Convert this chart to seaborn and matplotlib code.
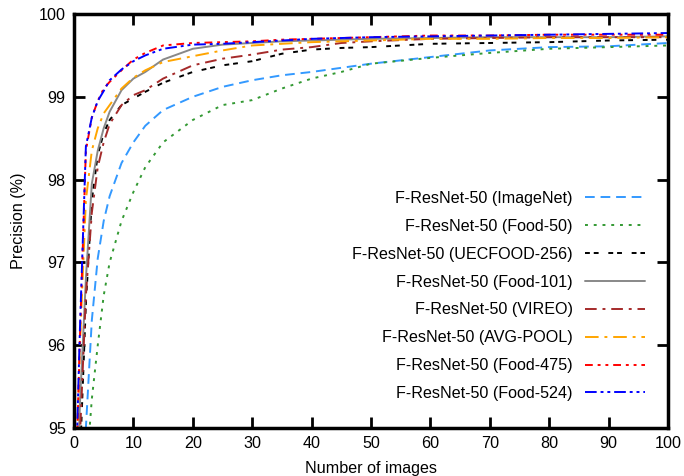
import numpy as np
import pandas as pd
import matplotlib
matplotlib.use("Agg")
import matplotlib.pyplot as plt
import seaborn as sns

x_vals = [0, 1, 2, 3, 4, 5, 6, 8, 10, 12, 15, 20, 25, 30, 35, 40, 45, 50, 60, 70, 80, 90, 100]

imagenet = [92.0, 93.8, 95.0, 96.3, 97.05, 97.5, 97.8, 98.2, 98.45, 98.65, 98.84, 99.0, 99.12, 99.2, 99.26, 99.3, 99.35, 99.4, 99.48, 99.56, 99.6, 99.61, 99.65]
food50 = [91.5, 93.3, 94.4, 95.35, 96.0, 96.6, 97.0, 97.5, 97.85, 98.15, 98.45, 98.72, 98.9, 98.96, 99.1, 99.22, 99.3, 99.4, 99.47, 99.53, 99.58, 99.6, 99.62]
uecfood = [92.5, 94.6, 96.5, 97.75, 98.3, 98.56, 98.72, 98.9, 98.98, 99.06, 99.17, 99.3, 99.38, 99.43, 99.52, 99.57, 99.59, 99.6, 99.64, 99.65, 99.66, 99.68, 99.69]
food101 = [93.0, 95.3, 96.8, 97.95, 98.35, 98.62, 98.82, 99.08, 99.22, 99.3, 99.45, 99.58, 99.63, 99.65, 99.67, 99.68, 99.69, 99.7, 99.71, 99.72, 99.72, 99.72, 99.73]
vireo = [92.8, 94.9, 96.6, 97.6, 98.15, 98.45, 98.67, 98.9, 99.02, 99.08, 99.22, 99.38, 99.46, 99.51, 99.57, 99.6, 99.65, 99.67, 99.7, 99.71, 99.72, 99.72, 99.72]
avgpool = [93.5, 96.0, 97.75, 98.35, 98.62, 98.8, 98.9, 99.1, 99.23, 99.32, 99.42, 99.49, 99.56, 99.62, 99.64, 99.66, 99.67, 99.68, 99.7, 99.7, 99.71, 99.71, 99.72]
food475 = [93.5, 96.1, 98.35, 98.75, 98.95, 99.1, 99.18, 99.32, 99.45, 99.53, 99.62, 99.65, 99.66, 99.67, 99.69, 99.7, 99.71, 99.72, 99.74, 99.74, 99.75, 99.75, 99.75]
food524 = [93.6, 96.2, 98.4, 98.75, 98.95, 99.07, 99.2, 99.33, 99.43, 99.5, 99.58, 99.63, 99.64, 99.66, 99.68, 99.7, 99.71, 99.72, 99.73, 99.74, 99.75, 99.76, 99.77]

labels = ["F-ResNet-50 (ImageNet)", "F-ResNet-50 (Food-50)", "F-ResNet-50 (UECFOOD-256)",
          "F-ResNet-50 (Food-101)", "F-ResNet-50 (VIREO)", "F-ResNet-50 (AVG-POOL)",
          "F-ResNet-50 (Food-475)", "F-ResNet-50 (Food-524)"]
series = [imagenet, food50, uecfood, food101, vireo, avgpool, food475, food524]
colors = ["#3399ff", "#339933", "#000000", "#888888", "#a52a2a", "#ffa500", "#ff0000", "#0000ff"]
styles = [(0, (5, 3)), (0, (1.5, 3)), (0, (2.5, 2, 2.5, 5)), "-", (0, (6, 3, 1.5, 3)),
          (0, (7, 3, 1.5, 3)), (0, (4, 2.5, 1.5, 2.5, 1.5, 2.5)), (0, (6, 2, 1.5, 2, 1.5, 2))]

sns.set_style("ticks")
plt.rcParams['font.family'] = ['Liberation Sans', 'DejaVu Sans']
plt.rcParams['text.color'] = 'black'
plt.rcParams['axes.labelcolor'] = 'black'
plt.rcParams['xtick.color'] = 'black'
plt.rcParams['ytick.color'] = 'black'

FS = 11.6

fig = plt.figure(figsize=(6.84, 4.76), dpi=100)
ax = fig.add_axes([74 / 684, 1 - 428 / 476, (668 - 74) / 684, (428 - 14) / 476])

for lab, vals, c, ls in zip(labels, series, colors, styles):
    df = pd.DataFrame({"x": x_vals, "y": vals})
    sns.lineplot(data=df, x="x", y="y", ax=ax, color=c, linestyle=ls, linewidth=1.4, label=lab)

ax.set_xlim(0, 100)
ax.set_ylim(95, 100)
ax.set_xticks(range(0, 101, 10))
ax.set_yticks(range(95, 101))
ax.tick_params(direction="in", length=8, width=2, labelsize=FS, top=True, right=True, pad=6,
               colors="black")
for sp in ax.spines.values():
    sp.set_linewidth(2.5)
    sp.set_color("black")
ax.set_xlabel("Number of images", fontsize=FS, labelpad=7)
ax.set_ylabel("Precision (%)", fontsize=FS, labelpad=9)

leg = ax.legend(loc="lower right", bbox_to_anchor=(0.985, 0.03), frameon=False, markerfirst=False,
                fontsize=FS, handlelength=3.7, labelspacing=0.8, handletextpad=0.75)

fig.savefig("out.png", dpi=100)
